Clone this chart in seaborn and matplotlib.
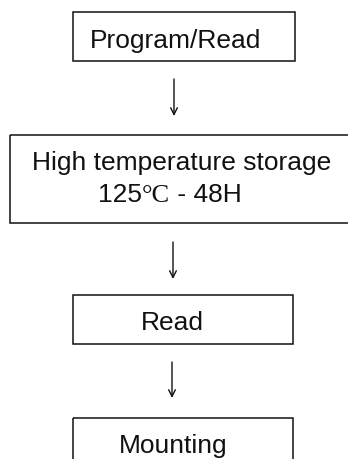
import matplotlib
matplotlib.use("Agg")
import matplotlib.pyplot as plt
import seaborn as sns
from matplotlib.patches import Rectangle

# flow steps (top to bottom)
steps = ["Program/Read", "High temperature storage", "Read", "Mounting"]
storage_parts = ["125", "°C", " - 48H"]
storage_serif = [False, True, False]

# layout in pixel coords (x0, y0, x1, y1)
boxes = [(73, 13, 295, 62), (10, 136, 352, 224), (73, 296, 293, 345), (73, 419, 293, 470)]
label_pos = [(176, 48), (182, 170), (172, 330), (173, 453)]
arrows = [(174, 80, 117), (173, 243, 280), (172, 363, 399)]

sns.set_theme(style="white")
plt.rcParams["font.family"] = ["Liberation Sans", "DejaVu Sans"]

fig = plt.figure(figsize=(3.48, 4.60), dpi=100)
ax = fig.add_axes([0, 0, 1, 1])
ax.set_xlim(0, 348)
ax.set_ylim(460, 0)
ax.axis("off")

FS = 19
for (x0, y0, x1, y1) in boxes:
    ax.add_patch(Rectangle((x0, y0), x1 - x0, y1 - y0, fill=False,
                           edgecolor="#111111", lw=1.1))

for label, (x, y) in zip(steps, label_pos):
    ax.text(x, y, label, ha="center", va="baseline", fontsize=FS, color="#111111")

# second line of the storage box, pieces placed one after another
renderer = fig.canvas.get_renderer()
x = 98
for part, serif in zip(storage_parts, storage_serif):
    fam = ["Liberation Serif", "DejaVu Serif"] if serif else ["Liberation Sans", "DejaVu Sans"]
    t = ax.text(x, 202, part, ha="left", va="baseline", fontsize=FS,
                family=fam, color="#111111")
    bb = t.get_window_extent(renderer)
    x += bb.width * 348 / fig.bbox.width

for (x, y0, y1) in arrows:
    ax.annotate("", xy=(x, y1), xytext=(x, y0),
                arrowprops=dict(arrowstyle="->", lw=1.0, color="#111111",
                                mutation_scale=12, shrinkA=0, shrinkB=0))

fig.savefig("out.png", dpi=100, facecolor="white")
